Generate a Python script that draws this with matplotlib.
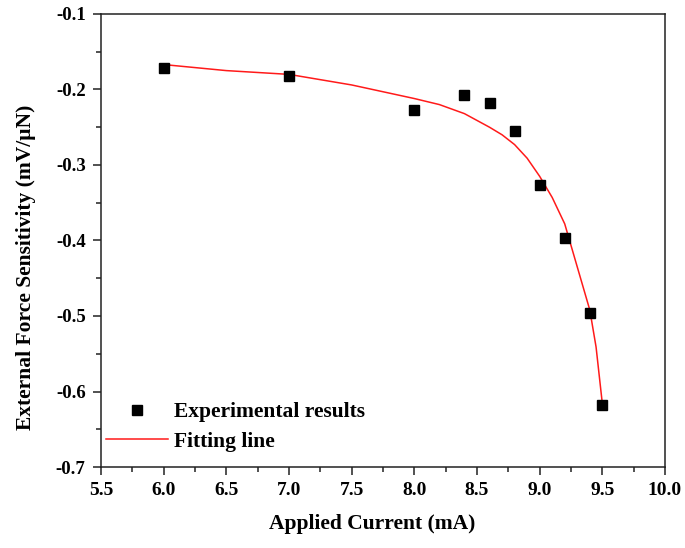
import matplotlib
matplotlib.use("Agg")
import matplotlib.pyplot as plt
from matplotlib.ticker import MultipleLocator, FixedLocator, FixedFormatter

# measured sensitivity vs. applied current
current = [6.0, 7.0, 8.0, 8.4, 8.6, 8.8, 9.0, 9.2, 9.4, 9.5]
sensitivity = [-0.172, -0.182, -0.227, -0.207, -0.218, -0.255, -0.327, -0.397, -0.496, -0.618]

# fitted curve, sampled
fit_current = [6.0, 6.5, 7.0, 7.5, 8.0, 8.2, 8.4, 8.6, 8.7, 8.8, 8.9, 9.0, 9.1, 9.2, 9.3, 9.4, 9.45, 9.5]
fit_sensitivity = [-0.167, -0.175, -0.180, -0.194, -0.212, -0.220, -0.232, -0.250, -0.260, -0.273,
                   -0.291, -0.315, -0.343, -0.378, -0.435, -0.492, -0.541, -0.616]

x_ticks = [5.5, 6.0, 6.5, 7.0, 7.5, 8.0, 8.5, 9.0, 9.5, 10.0]
x_tick_labels = ["5.5", "6.0", "6.5", "7.0", "7.5", "8.0", "8.5", "9.0", "9.5", "10.0"]
y_ticks = [-0.7, -0.6, -0.5, -0.4, -0.3, -0.2, -0.1]
y_tick_labels = ["-0.7", "-0.6", "-0.5", "-0.4", "-0.3", "-0.2", "-0.1"]

plt.rcParams["font.family"] = ["Liberation Serif", "DejaVu Serif"]
plt.rcParams["font.weight"] = "bold"

fig = plt.figure(figsize=(6.85, 5.48), dpi=100)
ax = fig.add_axes([0.1474, 0.1478, 0.8234, 0.8267])

ax.plot(fit_current, fit_sensitivity, color="#ff1a1a", lw=1.1, label="Fitting line", zorder=2)
ax.plot(current, sensitivity, ls="none", marker="s", ms=6.5, color="black",
        label="Experimental results", zorder=3)

ax.set_xlim(5.5, 10.0)
ax.set_ylim(-0.7, -0.1)
ax.xaxis.set_major_locator(FixedLocator(x_ticks))
ax.xaxis.set_major_formatter(FixedFormatter(x_tick_labels))
ax.yaxis.set_major_locator(FixedLocator(y_ticks))
ax.yaxis.set_major_formatter(FixedFormatter(y_tick_labels))
ax.xaxis.set_minor_locator(MultipleLocator(0.25))
ax.yaxis.set_minor_locator(MultipleLocator(0.05))

for s in ax.spines.values():
    s.set_linewidth(1.1)
    s.set_color("#222222")

ax.tick_params(which="both", direction="out", top=False, right=False, color="#222222", width=1.1)
ax.tick_params(which="major", length=6, pad=5)
ax.tick_params(which="minor", length=3.5)
ax.tick_params(axis="x", labelsize=14)
ax.tick_params(axis="y", labelsize=13.5)
for lbl in ax.get_xticklabels() + ax.get_yticklabels():
    lbl.set_fontweight("bold")

ax.set_xlabel("Applied Current (mA)", fontsize=15.5, fontweight="bold")
ax.set_ylabel("External Force Sensitivity (mV/\u03bcN)", fontsize=15.5, fontweight="bold")
ax.xaxis.set_label_coords(0.48, -0.103)
ax.yaxis.set_label_coords(-0.116, 0.44)

handles, labels = ax.get_legend_handles_labels()
leg = ax.legend(handles[::-1], labels[::-1], loc="lower left", frameon=False,
                fontsize=15.5, handlelength=2.9, handletextpad=0.25,
                borderaxespad=0.3, labelspacing=0.45, bbox_to_anchor=(-0.018, 0.0))
for t in leg.get_texts():
    t.set_fontweight("bold")

fig.savefig("out.png", dpi=100)
